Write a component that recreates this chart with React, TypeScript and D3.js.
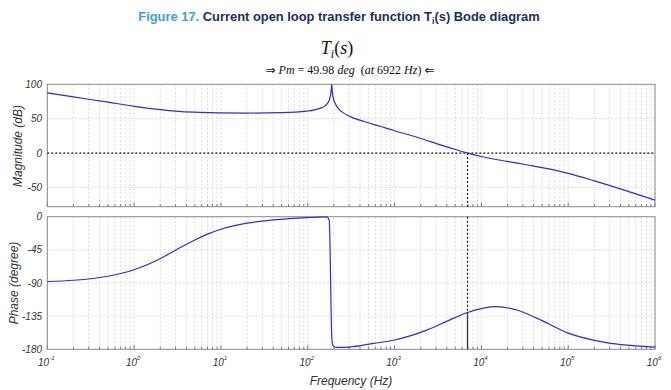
import React from "react";
import * as d3 from "d3";

// ---- data ----
const magFreq = [0.1, 0.2, 0.5, 1, 2, 3, 5, 10, 20, 50, 98, 138, 160, 172, 180, 185, 189, 192, 196, 205, 220, 250, 310, 457, 680, 1000, 2000, 3300, 4350, 6922, 10000, 19600, 33000, 60000, 100000, 200000, 500000, 1000000];
const magDb = [87.5, 81.6, 74, 68, 63.3, 61.1, 59.4, 58.5, 58.2, 58.7, 61, 65, 69, 74, 80, 88, 99.5, 89, 81, 73.5, 66.5, 59.5, 53, 45.5, 39, 32.5, 21.2, 12.3, 7.6, 0, -5, -12, -17, -23, -29.6, -40.5, -56, -68.5];

const phaseFreq = [0.1, 0.2, 0.5, 1, 2, 3, 5, 7, 10, 20, 40, 98, 165, 176, 180, 183, 186, 189, 193, 200, 215, 300, 575, 1000, 2350, 4350, 6922, 15000, 25700, 44000, 100000, 276000, 1000000];
const phaseDeg = [-88, -86.3, -80.8, -72, -57, -45.5, -31.6, -23.7, -17, -8.8, -4.4, -1.2, -0.3, -4, -30, -80, -130, -163, -173, -176, -177.5, -177, -172, -167.4, -154, -140, -130, -122, -126.7, -138, -158, -171, -177];

const magTicks = [100, 50, 0, -50];
const phaseTicks = [0, -45, -90, -135, -180];
const decadeExps = [-1, 0, 1, 2, 3, 4, 5, 6];

const crossFreq = 6922;
const crossPhase = -130.02;

const TITLE_BLUE = "#3fa0d8";
const TITLE_NAVY = "#1d2f5f";
const CURVE = "#2b2be6";

export default function App() {
  const W = 671, H = 390;
  const x = d3.scaleLog().domain([0.1, 1e6]).range([47.3, 655]);
  const yM = d3.scaleLinear().domain([-78, 100]).range([206.7, 84.3]);
  const yP = d3.scaleLinear().domain([-180, 0]).range([349.3, 216.7]);

  const magLine = d3
    .line<number>()
    .x((_, i) => x(magFreq[i]))
    .y((d) => yM(d))
    .curve(d3.curveMonotoneX);
  const phLine = d3
    .line<number>()
    .x((_, i) => x(phaseFreq[i]))
    .y((d) => yP(d))
    .curve(d3.curveMonotoneX);

  const gridFreqs: number[] = [];
  for (let e = -1; e < 6; e++) {
    for (let k = 1; k <= 9; k++) gridFreqs.push(k * Math.pow(10, e));
  }
  gridFreqs.push(1e6);

  const [x0, x1] = x.range();
  const axisFont = "Liberation Sans, Arial, sans-serif";
  const serif = "Liberation Serif, DejaVu Serif, serif";
  const arrowFont = "DejaVu Sans, sans-serif";

  const panel = (
    top: number,
    bottom: number,
    hTicks: number[],
    yScale: (v: number) => number,
    key: string
  ) => (
    <g key={key}>
      {gridFreqs.map((f, i) => (
        <line
          key={"v" + i}
          x1={x(f)}
          x2={x(f)}
          y1={top}
          y2={bottom}
          stroke="#cfcfcf"
          strokeWidth={0.8}
          strokeDasharray="2,2"
        />
      ))}
      {hTicks.map((t, i) => (
        <line
          key={"h" + i}
          x1={x0}
          x2={x1}
          y1={yScale(t)}
          y2={yScale(t)}
          stroke="#cfcfcf"
          strokeWidth={0.8}
          strokeDasharray="2,2"
        />
      ))}
      {gridFreqs.map((f, i) => {
        const major = Math.abs(Math.log10(f) - Math.round(Math.log10(f))) < 1e-9;
        return (
          <line
            key={"t" + i}
            x1={x(f)}
            x2={x(f)}
            y1={bottom}
            y2={bottom - (major ? 4 : 2.5)}
            stroke="#555"
            strokeWidth={0.8}
          />
        );
      })}
      <rect
        x={x0}
        y={top}
        width={x1 - x0}
        height={bottom - top}
        fill="none"
        stroke="#8a8a8a"
        strokeWidth={1}
      />
    </g>
  );

  const xc = x(crossFreq);

  return (
    <svg width={W} height={H} style={{ position: "absolute", left: 0, top: 0, background: "#fff" }}>
      {/* Title */}
      <text
        x={339}
        y={21}
        textAnchor="middle"
        fontFamily={axisFont}
        fontWeight="bold"
        fontSize={12.9}
        fill={TITLE_NAVY}
      >
        <tspan fill={TITLE_BLUE}>Figure 17.</tspan>
        <tspan> Current open loop transfer function T</tspan>
        <tspan fontSize={9} dy={3}>i</tspan>
        <tspan dy={-3}>(s) Bode diagram</tspan>
      </text>

      {/* Subtitle (math) */}
      <text x={337} y={54} textAnchor="middle" fontFamily={serif} fontSize={18} fill="#111">
        <tspan fontStyle="italic">T</tspan>
        <tspan fontStyle="italic" fontSize={12} dy={4}>i</tspan>
        <tspan dy={-4}>(</tspan>
        <tspan fontStyle="italic">s</tspan>
        <tspan>)</tspan>
      </text>
      <text x={350} y={74} textAnchor="middle" fontFamily={serif} fontSize={12} fill="#111">
        <tspan fontFamily={arrowFont} fontSize={12}>⇒</tspan>
        <tspan> </tspan>
        <tspan fontStyle="italic">Pm</tspan>
        <tspan> = 49.98 </tspan>
        <tspan fontStyle="italic">deg</tspan>
        <tspan>{"\u00a0\u00a0("}</tspan>
        <tspan fontStyle="italic">at</tspan>
        <tspan> 6922 </tspan>
        <tspan fontStyle="italic">Hz</tspan>
        <tspan>) </tspan>
        <tspan fontFamily={arrowFont} fontSize={12}>⇐</tspan>
      </text>

      {panel(84.3, 206.7, [50, -50], yM, "mag")}
      {panel(216.7, 349.3, [-45, -90, -135], yP, "ph")}

      {/* 0 dB line */}
      <line x1={x0} x2={x1} y1={yM(0)} y2={yM(0)} stroke="#111" strokeWidth={1.2} strokeDasharray="2,2" />
      {/* crossover markers */}
      <line x1={xc} x2={xc} y1={yM(0)} y2={206.7} stroke="#222" strokeWidth={1.2} strokeDasharray="2,2" />
      <line x1={xc} x2={xc} y1={216.7} y2={yP(crossPhase)} stroke="#222" strokeWidth={1.2} strokeDasharray="2,2" />
      <line x1={xc} x2={xc} y1={yP(crossPhase)} y2={349.3} stroke="#333" strokeWidth={1.3} />

      {/* curves */}
      <path d={magLine(magDb) || ""} fill="none" stroke={CURVE} strokeWidth={1.2} />
      <path d={phLine(phaseDeg) || ""} fill="none" stroke={CURVE} strokeWidth={1.2} />

      {/* y tick labels */}
      {magTicks.map((t) => (
        <text key={"m" + t} x={42} y={yM(t) + 3.5} textAnchor="end" fontFamily={axisFont} fontStyle="italic" fontSize={10} fill="#333">
          {t}
        </text>
      ))}
      {phaseTicks.map((t) => (
        <text key={"p" + t} x={42} y={yP(t) + 3.5} textAnchor="end" fontFamily={axisFont} fontStyle="italic" fontSize={10} fill="#333">
          {t}
        </text>
      ))}

      {/* x tick labels */}
      {decadeExps.map((e) => (
        <text key={"x" + e} x={x(Math.pow(10, e)) - 1} y={366} textAnchor="middle" fontFamily={axisFont} fontStyle="italic" fontSize={10} fill="#333">
          <tspan>10</tspan>
          <tspan fontSize={6} dy={-6}>{e}</tspan>
        </text>
      ))}

      {/* axis titles */}
      <text x={351} y={385} textAnchor="middle" fontFamily={axisFont} fontStyle="italic" fontSize={12} fill="#333">
        Frequency (Hz)
      </text>
      <text transform="translate(22,146) rotate(-90)" textAnchor="middle" fontFamily={axisFont} fontStyle="italic" fontSize={12} fill="#333">
        Magnitude (dB)
      </text>
      <text transform="translate(18,283) rotate(-90)" textAnchor="middle" fontFamily={axisFont} fontStyle="italic" fontSize={12} fill="#333">
        Phase (degree)
      </text>
    </svg>
  );
}
